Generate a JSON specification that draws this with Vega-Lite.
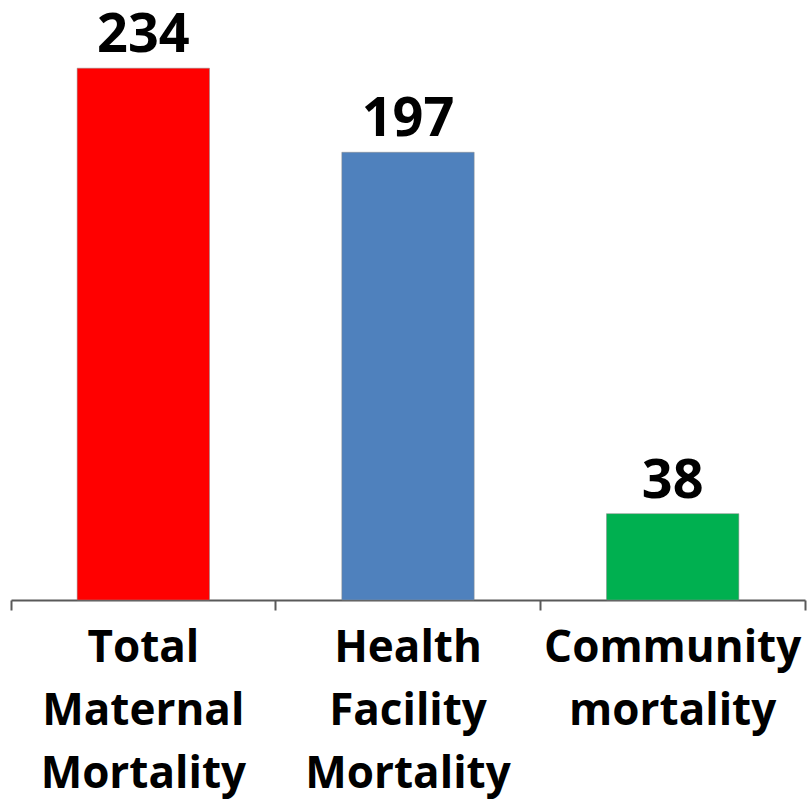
{
  "$schema": "https://vega.github.io/schema/vega-lite/v6.json",
  "width": 794,
  "height": 600,
  "autosize": {"type": "none"},
  "padding": {"left": 11, "top": 0, "right": 2, "bottom": 205},
  "background": "white",
  "config": {"view": {"stroke": null}},
  "data": {
    "values": [
      {"category": "Total|Maternal|Mortality", "value": 234, "color": "#FF0000"},
      {"category": "Health|Facility|Mortality", "value": 197, "color": "#4F81BD"},
      {"category": "Community|mortality", "value": 38, "color": "#00B050"}
    ]
  },
  "encoding": {
    "x": {
      "field": "category",
      "type": "nominal",
      "sort": null,
      "scale": {"paddingInner": 0, "paddingOuter": 0},
      "axis": {
        "title": null,
        "labelAngle": 0,
        "labelExpr": "datum.value ? split(datum.value, '|') : ''",
        "labelFont": "Open Sans",
        "labelFontWeight": "bold",
        "labelFontSize": 44,
        "labelColor": "black",
        "labelLineHeight": 63,
        "labelPadding": 16,
        "labelBaseline": "top",
        "labelLimit": 0,
        "labelOverlap": false,
        "labelBound": false,
        "labelFlush": false,
        "bandPosition": 1,
        "tickExtra": true,
        "tickSize": 10,
        "tickWidth": 2,
        "tickColor": "#595959",
        "domainColor": "#595959",
        "domainWidth": 2
      }
    },
    "y": {
      "field": "value",
      "type": "quantitative",
      "scale": {"domain": [0, 264]},
      "axis": null
    }
  },
  "layer": [
    {
      "mark": {"type": "bar", "width": {"band": 0.5}, "stroke": "#888888", "strokeWidth": 0.5},
      "encoding": {
        "color": {"field": "color", "type": "nominal", "scale": null}
      }
    },
    {
      "mark": {"type": "text", "font": "Open Sans", "fontWeight": "bold", "fontSize": 54, "baseline": "alphabetic", "dy": -16, "color": "black"},
      "encoding": {"text": {"field": "value", "type": "quantitative"}}
    }
  ]
}
